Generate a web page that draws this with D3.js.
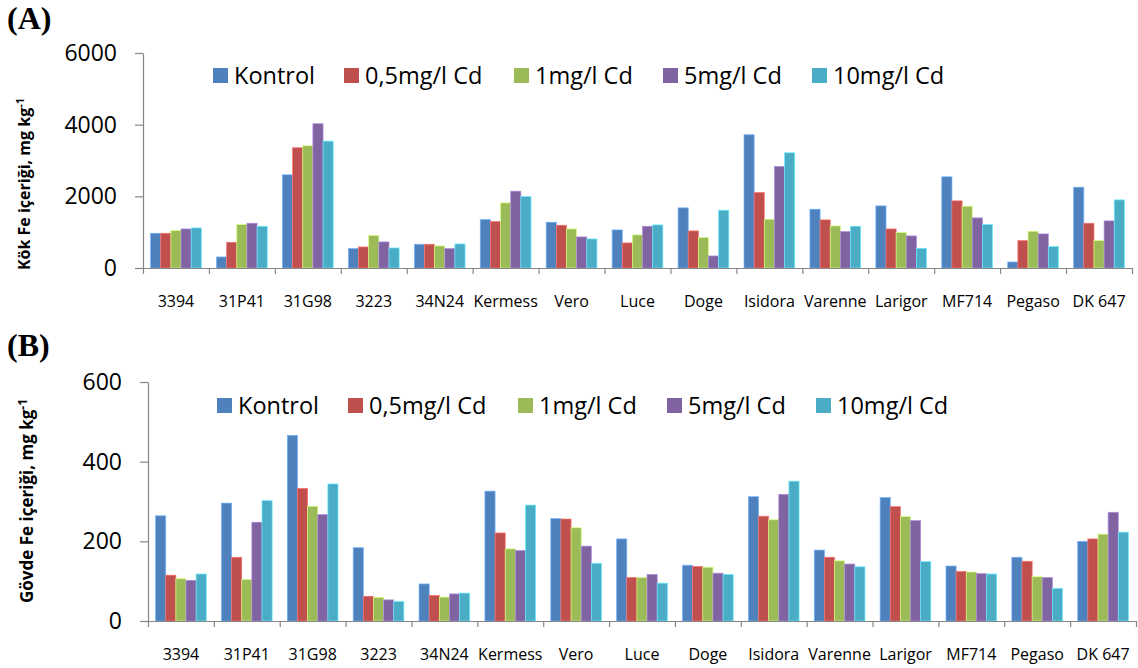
<!DOCTYPE html>
<html>
<head>
<meta charset="utf-8">
<script src="https://cdn.jsdelivr.net/npm/d3@7"></script>
<style>
body { margin: 0; background: #fff; }
text { font-family: "Open Sans", sans-serif; fill: #000; }
</style>
</head>
<body>
<div class="chart"></div>
<script>
var WIDTH = 1138,
	HEIGHT = 668;

var cultivars = ["3394", "31P41", "31G98", "3223", "34N24", "Kermess", "Vero", "Luce", "Doge", "Isidora", "Varenne", "Larigor", "MF714", "Pegaso", "DK 647"];
var seriesNames = ["Kontrol", "0,5mg/l Cd", "1mg/l Cd", "5mg/l Cd", "10mg/l Cd"];
var colors = ["#4F81BD", "#C0504D", "#9BBB59", "#8064A2", "#4BACC6"];

// (A) root Fe, mg/kg
var rootKontrol = [969, 308, 2600, 541, 662, 1351, 1277, 1062, 1678, 3718, 1640, 1733, 2544, 168, 2255];
var root05 = [969, 718, 3355, 587, 662, 1295, 1193, 699, 1034, 2106, 1342, 1090, 1873, 764, 1249];
var root1 = [1044, 1212, 3411, 904, 615, 1817, 1090, 923, 848, 1361, 1174, 988, 1724, 1025, 764];
var root5 = [1090, 1249, 4026, 727, 541, 2144, 867, 1165, 336, 2833, 1016, 895, 1398, 951, 1314];
var root10 = [1118, 1165, 3541, 559, 671, 1994, 811, 1202, 1612, 3215, 1165, 550, 1212, 596, 1901];
var rootTicks = [0, 2000, 4000, 6000];

// (B) shoot Fe, mg/kg
var shootKontrol = [264, 296, 466, 184, 93, 326, 257, 206, 140, 312, 178, 310, 138, 160, 200];
var shoot05 = [115, 160, 333, 62, 64, 221, 256, 109, 137, 263, 160, 287, 124, 150, 206];
var shoot1 = [106, 104, 288, 59, 60, 181, 234, 109, 135, 254, 151, 262, 123, 111, 218];
var shoot5 = [102, 248, 267, 53, 68, 177, 188, 117, 120, 318, 143, 252, 119, 109, 273];
var shoot10 = [118, 302, 344, 49, 70, 291, 145, 95, 117, 351, 136, 149, 118, 82, 223];
var shootTicks = [0, 200, 400, 600];

var panels = [
	{
		tag: "(A)", tagY: 29,
		title: "Kök Fe içeriği, mg kg", titleX: 30, titleY: 184, titleSize: 16,
		series: [rootKontrol, root05, root1, root5, root10],
		ticks: rootTicks,
		left: 143, right: 1132, top: 53, bottom: 268,
		legendY: 76, legendX: [213, 344, 514, 663, 812]
	},
	{
		tag: "(B)", tagY: 356,
		title: "Gövde Fe içeriği, mg kg", titleX: 33, titleY: 501, titleSize: 17,
		series: [shootKontrol, shoot05, shoot1, shoot5, shoot10],
		ticks: shootTicks,
		left: 148, right: 1136, top: 382, bottom: 621,
		legendY: 406, legendX: [217, 348, 518, 667, 816]
	}
];

var svg = d3.select(".chart").append("svg")
	.attr("width", WIDTH)
	.attr("height", HEIGHT);

svg.append("rect").attr("width", WIDTH).attr("height", HEIGHT).attr("fill", "#fff");

var drawPanel = function(p) {
	var g = svg.append("g");

	var xScale = d3.scaleBand()
		.domain(cultivars)
		.range([p.left, p.right])
		.paddingInner(1.5 / 6.5)
		.paddingOuter(0.75 / 6.5);

	var xInner = d3.scaleBand()
		.domain(d3.range(seriesNames.length))
		.range([0, xScale.bandwidth()]);

	var yScale = d3.scaleLinear()
		.domain([p.ticks[0], p.ticks[p.ticks.length - 1]])
		.range([p.bottom, p.top]);

	// boundaries between categories
	var xEdge = d3.scaleLinear()
		.domain([0, cultivars.length])
		.range([p.left, p.right]);

	// bars
	var groups = g.selectAll("g.grp")
		.data(cultivars)
		.enter().append("g")
		.attr("class", "grp")
		.attr("transform", function(d) { return "translate(" + xScale(d) + ",0)"; });

	groups.selectAll("rect")
		.data(function(d, i) {
			return p.series.map(function(s, k) { return { k: k, v: s[i] }; });
		})
		.enter().append("rect")
		.attr("x", function(d) { return xInner(d.k); })
		.attr("y", function(d) { return yScale(d.v); })
		.attr("width", xInner.bandwidth())
		.attr("height", function(d) { return yScale(0) - yScale(d.v); })
		.attr("fill", function(d) { return colors[d.k]; })
		.attr("stroke", function(d) { return d3.color(colors[d.k]).brighter(0.9); })
		.attr("stroke-width", 0.7);

	// y axis
	var yAxis = d3.axisLeft(yScale)
		.tickValues(p.ticks)
		.tickFormat(d3.format("d"))
		.tickSize(8)
		.tickSizeOuter(0)
		.tickPadding(18);

	var yG = g.append("g")
		.attr("transform", "translate(" + p.left + ",0)")
		.call(yAxis);
	yG.selectAll("text").style("font-size", "23px");

	// x axis: tick marks on boundaries
	var xTicks = d3.axisBottom(xEdge)
		.tickValues(d3.range(cultivars.length + 1))
		.tickSize(6)
		.tickSizeOuter(0)
		.tickFormat("");

	g.append("g")
		.attr("transform", "translate(0," + p.bottom + ")")
		.call(xTicks);

	// x axis labels
	var xLabels = d3.axisBottom(xScale)
		.tickSize(0)
		.tickPadding(28);

	var xl = g.append("g")
		.attr("transform", "translate(0," + p.bottom + ")")
		.call(xLabels);
	xl.select(".domain").remove();
	xl.selectAll("text").style("font-size", "16px");

	g.selectAll(".domain, .tick line")
		.attr("stroke", "#868686")
		.attr("stroke-width", 1.2);

	// y title
	var t = g.append("text")
		.attr("transform", "translate(" + p.titleX + "," + p.titleY + ") rotate(-90)")
		.attr("text-anchor", "middle")
		.style("font-weight", "bold")
		.style("font-size", p.titleSize + "px");
	t.append("tspan").text(p.title);
	t.append("tspan").attr("dy", -6).style("font-size", (p.titleSize - 5) + "px").text("-1");

	// panel tag
	g.append("text")
		.attr("x", 7)
		.attr("y", p.tagY)
		.style("font-family", "'Liberation Serif', serif")
		.style("font-weight", "bold")
		.style("font-size", "32px")
		.text(p.tag);

	// legend
	var leg = g.selectAll("g.leg")
		.data(seriesNames)
		.enter().append("g")
		.attr("class", "leg")
		.attr("transform", function(d, i) { return "translate(" + p.legendX[i] + "," + p.legendY + ")"; });

	leg.append("rect")
		.attr("x", 0)
		.attr("y", -8)
		.attr("width", 15)
		.attr("height", 15)
		.attr("fill", function(d, i) { return colors[i]; });

	leg.append("text")
		.attr("x", 21)
		.attr("y", 8)
		.style("font-size", "23.5px")
		.text(function(d) { return d; });
};

panels.forEach(drawPanel);
</script>
</body>
</html>
